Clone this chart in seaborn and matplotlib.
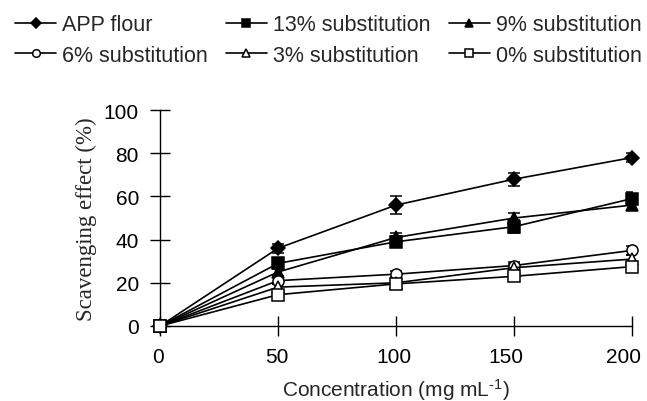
import seaborn as sns
import matplotlib.pyplot as plt
import matplotlib.transforms as mtransforms
import numpy as np

# concentrations (mg/mL)
conc = [0, 50, 100, 150, 200]

app_flour = [0, 36, 56, 68, 78]
sub_13 = [0, 29, 39, 46, 59]
sub_9 = [0, 25, 41, 50, 56]
sub_6 = [0, 21, 24, 28, 35]
sub_3 = [0, 18, 20, 27, 31]
sub_0 = [0, 14.5, 19.5, 23, 27.5]

err_app = [0, 2, 4, 3, 2]
err_13 = [0, 2.5, 2.5, 3, 3]
err_9 = [0, 2, 2, 2.5, 2.5]
err_6 = [0, 1.5, 1.5, 1.5, 2]
err_3 = [0, 1.5, 1.5, 1.5, 2]
err_0 = [0, 1.5, 1.5, 1.5, 1.5]

labels = ['APP flour', '13% substitution', '9% substitution',
          '6% substitution', '3% substitution', '0% substitution']
series = [app_flour, sub_13, sub_9, sub_6, sub_3, sub_0]
errors = [err_app, err_13, err_9, err_6, err_3, err_0]
markers = ['D', 's', '^', 'o', '^', 's']
faces = ['black', 'black', 'black', 'white', 'white', 'white']
sizes = [7.5, 8, 8, 8, 8, 8]

sns.set_style('ticks')
plt.rcParams['font.family'] = ['Liberation Sans', 'DejaVu Sans']
plt.rcParams['mathtext.default'] = 'regular'

fig = plt.figure(figsize=(6.47, 4.02), dpi=100)
ax = fig.add_axes([0.2473, 0.1866, 0.7295, 0.537])

for vals, err, lab, mk, fc, ms in zip(series, errors, labels, markers, faces, sizes):
    ax.errorbar(conc, vals, yerr=err, fmt='none', ecolor='black',
                elinewidth=1.1, capsize=4.5, capthick=1.1, zorder=2)
    sns.lineplot(x=conc, y=vals, ax=ax, color='black', linewidth=1.2,
                 marker=mk, markersize=ms, markerfacecolor=fc,
                 markeredgecolor='black', markeredgewidth=1.1,
                 label=lab, legend=False, zorder=3, clip_on=False)

ax.set_xlim(0, 200)
ax.set_ylim(0, 100)
ax.set_xticks([0, 50, 100, 150, 200])
ax.set_yticks([0, 20, 40, 60, 80, 100])
sns.despine(ax=ax)
for s in ['left', 'bottom']:
    ax.spines[s].set_linewidth(1.0)
    ax.spines[s].set_color('black')
ax.tick_params(direction='inout', length=14.4, width=1.0, labelsize=15,
               colors='black', pad=8)

# the original's x tick labels sit a little left of their ticks
shifts = [-2, -1, -2, -8, -8]
for lbl, dx in zip(ax.get_xticklabels(), shifts):
    lbl.set_transform(lbl.get_transform() +
                      mtransforms.ScaledTranslation(dx / 100, 0, fig.dpi_scale_trans))

ax.set_xlabel('Concentration (mg mL$^{\u2010 1}$)'.replace('\u2010 ', '\u2010'),
              fontsize=15, labelpad=7)
ax.set_ylabel('Scavenging effect (%)', fontsize=16.5, family='Liberation Serif',
              labelpad=5)

# legend reads row by row in the reference; matplotlib fills columns first
handles, labs = ax.get_legend_handles_labels()
order = [0, 3, 1, 4, 2, 5]
leg = fig.legend([handles[i] for i in order], [labs[i] for i in order],
                 loc='upper left', bbox_to_anchor=(0.0, 1.0),
                 ncol=3, frameon=False, fontsize=15.5, handlelength=1.9,
                 handletextpad=0.28, columnspacing=0.85, labelspacing=0.45,
                 borderaxespad=0.3)
for h in leg.legend_handles:
    h.set_markersize(5.5)

fig.savefig('out.png', dpi=100)
